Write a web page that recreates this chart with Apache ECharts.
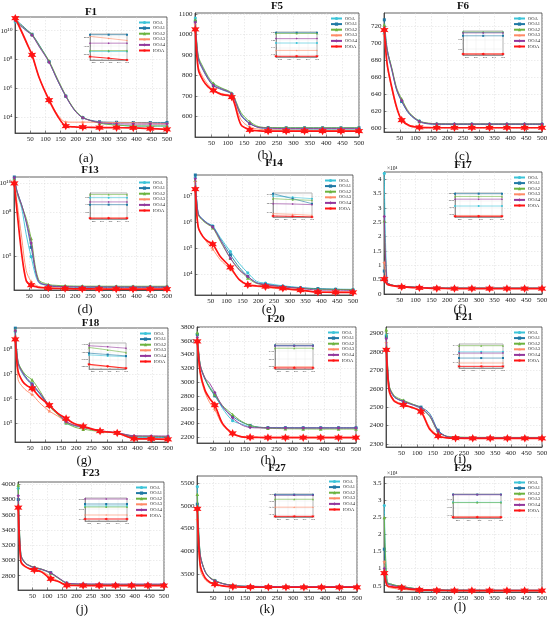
<!DOCTYPE html>
<html>
<head>
<meta charset="utf-8">
<script src="https://cdn.jsdelivr.net/npm/echarts@6/dist/echarts.min.js"></script>
<style>html,body{margin:0;padding:0;background:#fff}#chart{width:550px;height:621px}</style>
</head>
<body>
<div id="chart"></div>
<script>
// iterations the curves are read at; markers sit on the ones in MARK_AT
var X = [1, 10, 25, 40, 56, 80, 112, 140, 167, 195, 223, 278, 334, 389, 445, 500];
var MARK_AT = [1, 56, 112, 167, 223, 278, 334, 389, 445, 500];
var X_TICKS = [50, 100, 150, 200, 250, 300, 350, 400, 450, 500];
var INSET_X_TICKS = [400, 425, 450, 475, 500];
var NAMES = ['OOA', 'OOA1', 'OOA2', 'OOA3', 'OOA4', 'IOOA'];

// rows follow NAMES
var F1_VALUES = [
	[4.0e10, 2.8e10, 1.6e10, 9.0e9, 5.0e9, 8.0e8, 7.2e7, 4.0e6, 3.0e5, 3.4e4, 9.5e3, 4.0e3, 3.0e3, 2360, 2360, 2360],
	[7.4e10, 4.2e10, 2.2e10, 1.1e10, 5.6e9, 1.0e9, 7.0e7, 3.5e6, 2.8e5, 3.2e4, 9.0e3, 4.8e3, 4.4e3, 4270, 4270, 4270],
	[6.0e10, 3.6e10, 1.9e10, 1.0e10, 5.5e9, 9.0e8, 8.0e7, 4.5e6, 3.2e5, 3.6e4, 9.8e3, 3.8e3, 2.8e3, 2470, 2470, 2470],
	[7.0e10, 2.5e10, 5.0e9, 1.0e9, 1.8e8, 5.0e6, 1.8e5, 1.5e4, 4.6e3, 4.5e3, 4.5e3, 4.4e3, 4.2e3, 4080, 3850, 3620],
	[5.0e10, 3.2e10, 1.7e10, 9.0e9, 4.8e9, 7.5e8, 6.5e7, 3.6e6, 2.8e5, 3.2e4, 9.0e3, 4.2e3, 3.5e3, 3310, 3310, 3310],
	[7.4e10, 3.0e10, 6.3e9, 1.2e9, 2.1e8, 5.2e6, 1.5e5, 1.2e4, 2.4e3, 2.1e3, 2.0e3, 1.9e3, 1.85e3, 1780, 1600, 1400]
];
var F1_TICKS = [1e4, 1e6, 1e8, 1e10];

var F5_VALUES = [
	[1080, 890, 835, 790, 758, 738, 712, 612, 568, 545, 540, 538, 538, 538, 538, 538],
	[1065, 880, 825, 782, 750, 732, 708, 605, 565, 548, 546, 545, 545, 545, 545, 545],
	[1072, 895, 840, 795, 762, 740, 714, 620, 575, 550, 546, 545, 544.5, 544.5, 544.5, 544.5],
	[1050, 845, 790, 755, 730, 712, 698, 585, 548, 538, 535, 534, 533, 533, 533, 533],
	[1060, 885, 830, 786, 752, 735, 710, 608, 566, 546, 543, 541, 541, 541, 541, 541],
	[1025, 830, 775, 745, 727, 708, 695, 560, 535, 530, 529, 529, 529, 529, 529, 529]
];
var F5_TICKS = [600, 700, 800, 900, 1000, 1100];

var F6_VALUES = [
	[712, 690, 668, 645, 632, 618, 609, 606, 605.6, 605.5, 605.5, 605.5, 605.5, 605.5, 605.5, 605.5],
	[728, 694, 670, 646, 632, 617, 608, 605.5, 605, 604.9, 604.8, 604.8, 604.8, 604.8, 604.8, 604.8],
	[722, 693, 671, 648, 635, 619, 609, 606.5, 605.8, 605.7, 605.6, 605.6, 605.6, 605.6, 605.6, 605.6],
	[710, 674, 646, 624, 611, 604, 601.8, 601.3, 601.1, 601.05, 601.05, 601.05, 601.05, 601.05, 601.05, 601.05],
	[718, 692, 669, 646, 633, 618, 608.5, 606, 605.5, 605.4, 605.4, 605.4, 605.4, 605.4, 605.4, 605.4],
	[716, 676, 648, 625, 610, 603.5, 601.5, 601.1, 601, 601, 601, 601, 601, 601, 601, 601]
];
var F6_TICKS = [600, 620, 640, 660, 680, 700, 720];

var F13_VALUES = [
	[2.0e10, 2.0e9, 2.0e8, 3.0e6, 9.0e4, 1.5e3, 950, 860, 830, 810, 800, 795, 792, 790, 790, 790],
	[2.8e10, 3.0e9, 3.5e8, 2.0e7, 4.0e5, 2.0e3, 900, 780, 740, 720, 710, 705, 702, 700, 700, 700],
	[2.2e10, 2.5e9, 3.0e8, 4.0e7, 1.6e6, 2.5e3, 1.1e3, 950, 880, 850, 840, 835, 832, 830, 830, 830],
	[1.5e10, 5.0e8, 2.0e6, 1.0e4, 1.8e3, 800, 620, 580, 560, 550, 545, 540, 535, 530, 530, 530],
	[2.5e10, 2.8e9, 3.2e8, 2.5e7, 8.0e5, 1.8e3, 950, 820, 780, 760, 750, 742, 738, 735, 735, 735],
	[1.0e10, 1.2e8, 1.5e5, 2.0e3, 1.0e3, 700, 620, 590, 570, 555, 545, 535, 530, 525, 525, 525]
];
var F13_TICKS = [1e5, 1e8, 1e10];

var F14_VALUES = [
	[5.0e7, 2.2e6, 1.26e6, 9.0e5, 7.0e5, 2.5e5, 7.2e4, 2.5e4, 1.1e4, 5.2e3, 4.4e3, 3.5e3, 3.0e3, 2650, 2606, 2561],
	[6.3e7, 2.0e6, 1.2e6, 8.5e5, 6.6e5, 2.2e5, 5.4e4, 1.8e4, 8.0e3, 4.6e3, 4.0e3, 3.3e3, 2.9e3, 2728, 2561, 2394],
	[4.0e7, 1.9e6, 1.1e6, 8.0e5, 6.0e5, 1.8e5, 4.0e4, 1.5e4, 7.0e3, 4.3e3, 3.8e3, 3.2e3, 2.8e3, 2561, 2528, 2506],
	[3.5e7, 6.0e5, 2.8e5, 1.5e5, 9.0e4, 3.5e4, 1.5e4, 6.0e3, 3.8e3, 3.3e3, 3.0e3, 2.6e3, 2.3e3, 2061, 2039, 2006],
	[4.5e7, 2.1e6, 1.2e6, 8.5e5, 6.3e5, 2.0e5, 4.0e4, 1.4e4, 8.0e3, 4.5e3, 3.9e3, 3.2e3, 2.8e3, 2394, 2383, 2361],
	[1.8e7, 6.6e5, 2.7e5, 1.8e5, 1.4e5, 4.7e4, 1.8e4, 6.0e3, 3.8e3, 3.5e3, 3.25e3, 2.8e3, 2.4e3, 1983, 1972, 1950]
];
var F14_TICKS = [1e4, 1e5, 1e6, 1e7];

var F17_VALUES = [
	[42000, 4200, 3100, 2800, 2650, 2450, 2300, 2150, 2080, 2030, 2000, 1980, 1970, 1960, 1960, 1960],
	[8000, 4000, 3100, 2800, 2650, 2450, 2300, 2180, 2100, 2070, 2060, 2055, 2052, 2050, 2050, 2050],
	[25500, 4100, 3150, 2850, 2680, 2480, 2320, 2170, 2090, 2055, 2040, 2035, 2032, 2030, 2030, 2030],
	[11000, 3600, 2900, 2650, 2500, 2300, 2150, 2030, 1950, 1910, 1900, 1895, 1892, 1890, 1890, 1890],
	[27000, 4100, 3100, 2820, 2660, 2460, 2310, 2160, 2080, 2040, 2025, 2015, 2012, 2010, 2010, 2010],
	[5200, 3400, 2900, 2650, 2500, 2300, 2150, 2030, 1950, 1910, 1900, 1892, 1888, 1885, 1885, 1885]
];
var F17_TICKS = [0, 5000, 10000, 15000, 20000, 25000, 30000, 35000, 40000];

var F18_VALUES = [
	[5.0e8, 2.5e7, 1.0e7, 5.6e6, 3.5e6, 1.6e6, 5.0e5, 2.5e5, 1.05e5, 8.0e4, 7.0e4, 5.0e4, 4.1e4, 28800, 28400, 28100],
	[7.0e8, 3.0e7, 1.2e7, 6.5e6, 4.0e6, 1.7e6, 5.2e5, 2.6e5, 1.2e5, 8.5e4, 7.2e4, 5.0e4, 4.2e4, 29500, 28950, 28400],
	[6.0e8, 3.2e7, 1.3e7, 8.0e6, 5.8e6, 2.2e6, 5.0e5, 2.3e5, 1.1e5, 7.2e4, 6.0e4, 4.8e4, 4.2e4, 31800, 30800, 29750],
	[3.0e8, 6.0e6, 3.0e6, 2.0e6, 1.5e6, 7.0e5, 3.2e5, 2.0e5, 1.2e5, 8.5e4, 7.2e4, 5.0e4, 4.0e4, 24700, 24050, 23500],
	[5.5e8, 2.8e7, 1.1e7, 6.0e6, 3.8e6, 1.8e6, 5.5e5, 2.7e5, 1.2e5, 8.5e4, 7.3e4, 5.2e4, 4.3e4, 32500, 32050, 31500],
	[2.5e8, 1.3e7, 5.0e6, 3.3e6, 2.6e6, 1.2e6, 5.5e5, 2.6e5, 1.6e5, 9.8e4, 7.8e4, 5.0e4, 4.2e4, 25000, 24200, 23400]
];
var F18_TICKS = [1e5, 1e6, 1e7, 1e8];

var F20_VALUES = [
	[3700, 3250, 3050, 2930, 2830, 2620, 2440, 2390, 2350, 2340, 2336, 2335, 2334, 2334, 2334, 2334],
	[3690, 3240, 3040, 2910, 2800, 2640, 2500, 2420, 2370, 2345, 2338, 2336, 2335, 2335, 2335, 2335],
	[3720, 3260, 3060, 2920, 2820, 2660, 2530, 2430, 2370, 2340, 2330, 2322, 2320, 2318, 2318, 2318],
	[3560, 3100, 2850, 2700, 2600, 2380, 2240, 2210, 2203, 2201, 2200, 2200, 2200, 2200, 2200, 2200],
	[3650, 3250, 3060, 2980, 2850, 2650, 2480, 2380, 2340, 2335, 2334, 2333, 2333, 2333, 2333, 2333],
	[3590, 3148, 2883, 2760, 2665, 2400, 2255, 2205, 2197, 2195, 2194, 2193, 2192, 2192, 2192, 2192]
];
var F20_TICKS = [2200, 2400, 2600, 2800, 3000, 3200, 3400, 3600, 3800];

var F21_VALUES = [
	[2890, 2610, 2556, 2540, 2530, 2515, 2492, 2450, 2370, 2342, 2337, 2335, 2334.6, 2334.5, 2334.5, 2334.5],
	[2880, 2615, 2560, 2542, 2532, 2518, 2500, 2465, 2375, 2340, 2335, 2333.5, 2333.2, 2333, 2333, 2333],
	[2920, 2620, 2565, 2548, 2537, 2520, 2495, 2450, 2365, 2342, 2338, 2336.5, 2336.2, 2336, 2336, 2336],
	[2850, 2590, 2540, 2525, 2515, 2500, 2480, 2390, 2345, 2335, 2333, 2332.2, 2332, 2331.8, 2331.8, 2331.8],
	[2870, 2612, 2558, 2541, 2531, 2516, 2494, 2455, 2368, 2341, 2336, 2334.6, 2334.3, 2334.2, 2334.2, 2334.2],
	[2810, 2590, 2535, 2520, 2512, 2500, 2475, 2380, 2343, 2333, 2331.5, 2331.2, 2331.1, 2331, 2331, 2331]
];
var F21_TICKS = [2300, 2400, 2500, 2600, 2700, 2800, 2900];

var F23_VALUES = [
	[3947, 3072, 2963, 2930, 2900, 2880, 2831, 2760, 2700, 2688, 2685, 2684, 2683, 2683, 2683, 2683],
	[3800, 3060, 2960, 2928, 2905, 2885, 2840, 2765, 2702, 2690, 2687, 2686, 2685, 2685, 2685, 2685],
	[3990, 3080, 2970, 2935, 2910, 2888, 2835, 2762, 2698, 2686, 2684, 2683, 2682, 2682, 2682, 2682],
	[3700, 3000, 2925, 2895, 2880, 2860, 2790, 2725, 2680, 2676, 2675, 2674, 2674, 2674, 2674, 2674],
	[3850, 3070, 2965, 2932, 2905, 2885, 2838, 2770, 2705, 2694, 2692, 2691, 2690, 2690, 2690, 2690],
	[3693, 2980, 2918, 2890, 2875, 2850, 2757, 2720, 2672, 2671, 2670, 2670, 2670, 2670, 2670, 2670]
];
var F23_TICKS = [2800, 3000, 3200, 3400, 3600, 3800, 4000];

var F27_VALUES = [
	[5425, 3924, 3557, 3420, 3353, 3290, 3245, 3232, 3228, 3226, 3225.5, 3225, 3224.9, 3224.8, 3224.8, 3224.8],
	[5038, 3930, 3560, 3420, 3350, 3290, 3245, 3232, 3228, 3226, 3225.5, 3225.2, 3225.1, 3225, 3225, 3225],
	[5258, 3940, 3570, 3430, 3360, 3295, 3247, 3230, 3226, 3223, 3222.5, 3222, 3221.7, 3221.5, 3221.5, 3221.5],
	[4700, 3600, 3380, 3300, 3260, 3235, 3222, 3218, 3216.5, 3216, 3215.8, 3215.6, 3215.5, 3215.5, 3215.5, 3215.5],
	[4950, 3920, 3555, 3415, 3350, 3288, 3244, 3231, 3227, 3225.5, 3225, 3224.8, 3224.7, 3224.6, 3224.6, 3224.6],
	[4935, 3705, 3420, 3320, 3280, 3240, 3220, 3212, 3210, 3209, 3208.8, 3208.6, 3208.5, 3208.5, 3208.5, 3208.5]
];
var F27_TICKS = [3500, 4000, 4500, 5000, 5500];

var F29_VALUES = [
	[28500, 5800, 5200, 4900, 4700, 4300, 3950, 3800, 3720, 3680, 3660, 3640, 3630, 3620, 3620, 3620],
	[15700, 6000, 5400, 5000, 4800, 4400, 4000, 3820, 3740, 3700, 3680, 3665, 3655, 3650, 3650, 3650],
	[25000, 6100, 5400, 5050, 4850, 4400, 4000, 3810, 3730, 3690, 3665, 3640, 3628, 3619, 3619, 3619],
	[12000, 4800, 4300, 4100, 3950, 3750, 3650, 3600, 3580, 3572, 3568, 3566, 3565, 3565, 3565, 3565],
	[10000, 5600, 5100, 4800, 4650, 4250, 3950, 3800, 3730, 3690, 3670, 3658, 3652, 3649, 3649, 3649],
	[8700, 5000, 4650, 4500, 4400, 4000, 3800, 3700, 3620, 3590, 3575, 3568, 3565, 3563, 3563, 3563]
];
var F29_TICKS = [5000, 10000, 15000, 20000, 25000, 30000, 35000];

// axis extents, tick values and the zoomed range of each inset
var PANELS = [
	{name: 'F1',  tag: '(a)', values: F1_VALUES,  ticks: F1_TICKS,  log: true,  range: [794, 8.9e10],   inset: [1400, 4350]},
	{name: 'F5',  tag: '(b)', values: F5_VALUES,  ticks: F5_TICKS,  log: false, range: [500, 1105],     inset: [528.5, 545.5]},
	{name: 'F6',  tag: '(c)', values: F6_VALUES,  ticks: F6_TICKS,  log: false, range: [596, 736],      inset: [600.8, 605.8]},
	{name: 'F13', tag: '(d)', values: F13_VALUES, ticks: F13_TICKS, log: true,  range: [457, 2.8e10],   inset: [515, 850]},
	{name: 'F14', tag: '(e)', values: F14_VALUES, ticks: F14_TICKS, log: true,  range: [1550, 6.3e7],   inset: [1950, 2750]},
	{name: 'F17', tag: '(f)', values: F17_VALUES, ticks: F17_TICKS, log: false, range: [0, 42500],      inset: [1880, 2055], e4: true},
	{name: 'F18', tag: '(g)', values: F18_VALUES, ticks: F18_TICKS, log: true,  range: [1.82e4, 7.1e8], inset: [23100, 33600]},
	{name: 'F20', tag: '(h)', values: F20_VALUES, ticks: F20_TICKS, log: false, range: [2115, 3800],    inset: [2185, 2345]},
	{name: 'F21', tag: '(i)', values: F21_VALUES, ticks: F21_TICKS, log: false, range: [2284, 2934],    inset: [2330.6, 2336.4]},
	{name: 'F23', tag: '(j)', values: F23_VALUES, ticks: F23_TICKS, log: false, range: [2612, 4030],    inset: [2668, 2691]},
	{name: 'F27', tag: '(k)', values: F27_VALUES, ticks: F27_TICKS, log: false, range: [3104, 5660],    inset: [3208, 3225.5]},
	{name: 'F29', tag: '(l)', values: F29_VALUES, ticks: F29_TICKS, log: false, range: [3150, 36850],   inset: [3560, 3652], e4: true}
];

// pixel layout: plot box, inset box [left, top, w, h], title centre, tag centre
var LAYOUT = {
	F1:  {grid: [15, 17, 152, 116],  inset: [90, 34, 37, 26],   title: [91, 12.5],  tag: [86, 159]},
	F5:  {grid: [195, 13, 164, 124], inset: [276, 32, 41, 25],  title: [277, 6.5],  tag: [265, 156]},
	F6:  {grid: [384, 13, 158, 119], inset: [463, 31, 40, 24],  title: [463, 6.5],  tag: [462, 157]},
	F13: {grid: [14, 177, 153, 113], inset: [90, 193, 37, 26],  title: [90, 170],   tag: [85, 310]},
	F14: {grid: [195, 175, 158, 120],inset: [273, 193, 39, 24], title: [274, 163.5],tag: [269, 310]},
	F17: {grid: [384, 172, 158, 122],inset: [455, 193, 47, 24], title: [463, 165.5],tag: [460, 310]},
	F18: {grid: [15, 328, 153, 114], inset: [89, 343, 37, 26],  title: [90.5, 323], tag: [84, 461]},
	F20: {grid: [197, 327, 159, 116],inset: [275, 344, 38, 25], title: [276, 319.5],tag: [268, 461]},
	F21: {grid: [386, 327, 156, 120],inset: [459, 344, 44, 24], title: [464, 317.5],tag: [460, 460]},
	F23: {grid: [18, 482, 146, 108], inset: [85, 498, 42, 23],  title: [91, 473.5], tag: [82, 610]},
	F27: {grid: [197, 476, 160, 116],inset: [275, 494, 38, 23], title: [277, 468],  tag: [267, 610]},
	F29: {grid: [384, 477, 158, 115],inset: [453, 494, 48, 24], title: [463, 468],  tag: [460, 608]}
};

var SERIF = '"Liberation Serif", "DejaVu Serif", serif';
var STAR5 = 'path://M50,0 L61,35 L98,35 L68,57 L79,91 L50,70 L21,91 L32,57 L2,35 L39,35 Z';
var STAR6 = 'path://M50,0 L62,28 L93,25 L75,50 L93,75 L62,72 L50,100 L38,72 L7,75 L25,50 L7,25 L38,28 Z';
var COLORS = ['#3cc4d8', '#1f78a4', '#6cb33f', '#ff8a66', '#94379c', '#ff1414'];
var SYMBOLS = ['circle', 'rect', 'triangle', STAR5, 'diamond', STAR6];
var SIZES = [3.2, 3, 3.6, 4.2, 3.4, 8.5];
var WIDTHS = [0.9, 0.9, 0.9, 0.9, 0.9, 1.7];
var SUP = ['\u2070', '\u00b9', '\u00b2', '\u00b3', '\u2074', '\u2075', '\u2076', '\u2077', '\u2078', '\u2079'];
var GRID_LINE = {color: '#d8d8d8', width: 0.5, type: [1.5, 1.5]};

function powLabel(v) {
	var e = String(Math.round(Math.log10(v)));
	var s = '10';
	for (var i = 0; i < e.length; i++) { s += SUP[+e[i]]; }
	return s;
}
function plainLabel(v) { return String(v); }
function e4Label(v) { return String(v / 1e4); }

var grids = [], xAxes = [], yAxes = [], series = [], legends = [], texts = [];

PANELS.forEach(function (p) {
	var L = LAYOUT[p.name];
	var gi = grids.length;
	grids.push({left: L.grid[0], top: L.grid[1], width: L.grid[2], height: L.grid[3],
		show: true, borderColor: '#3a3a3a', borderWidth: 0.8, outerBoundsMode: 'none'});
	xAxes.push({
		type: 'value', gridIndex: gi, min: 0, max: 500,
		axisLine: {show: true, lineStyle: {color: '#333', width: 0.8}},
		axisTick: {show: true, inside: true, length: 2.5, customValues: X_TICKS, lineStyle: {color: '#333', width: 0.6}},
		axisLabel: {customValues: X_TICKS, fontSize: 7, fontFamily: SERIF, color: '#222', margin: 2.5, formatter: plainLabel},
		splitLine: {show: true, lineStyle: GRID_LINE}
	});
	yAxes.push({
		type: p.log ? 'log' : 'value', logBase: 10, gridIndex: gi, min: p.range[0], max: p.range[1],
		axisLine: {show: true, lineStyle: {color: '#333', width: 0.8}},
		axisTick: {show: true, inside: true, length: 2.5, customValues: p.ticks, lineStyle: {color: '#333', width: 0.6}},
		axisLabel: {customValues: p.ticks, fontSize: 7, fontFamily: SERIF, color: '#222', margin: 2.5,
			formatter: p.log ? powLabel : (p.e4 ? e4Label : plainLabel)},
		splitLine: {show: true, lineStyle: GRID_LINE}
	});

	// zoom box near the end of the run
	var ii = grids.length;
	grids.push({left: L.inset[0], top: L.inset[1], width: L.inset[2], height: L.inset[3],
		show: true, backgroundColor: '#fff', borderColor: '#777', borderWidth: 0.6, outerBoundsMode: 'none', z: 5});
	xAxes.push({
		type: 'value', gridIndex: ii, min: 389, max: 500, z: 5,
		axisLine: {show: true, lineStyle: {color: '#555', width: 0.5}},
		axisTick: {show: true, inside: true, length: 1, customValues: INSET_X_TICKS, lineStyle: {color: '#555', width: 0.4}},
		axisLabel: {customValues: INSET_X_TICKS, fontSize: 2.6, fontFamily: SERIF, color: '#444', margin: 1, formatter: plainLabel},
		splitLine: {show: true, lineStyle: {color: '#e2e2e2', width: 0.4}}
	});
	yAxes.push({
		type: 'value', gridIndex: ii, min: p.inset[0], max: p.inset[1], splitNumber: 3, z: 5,
		axisLine: {show: true, lineStyle: {color: '#555', width: 0.5}},
		axisTick: {show: true, inside: true, length: 1, lineStyle: {color: '#555', width: 0.4}},
		axisLabel: {fontSize: 2.6, fontFamily: SERIF, color: '#444', margin: 1, showMinLabel: false, showMaxLabel: false,
			formatter: plainLabel},
		splitLine: {show: true, lineStyle: {color: '#e2e2e2', width: 0.4}}
	});

	p.values.forEach(function (row, k) {
		var pts = X.map(function (x, i) { return [x, row[i]]; });
		series.push({
			name: NAMES[k], type: 'line', xAxisIndex: gi, yAxisIndex: gi,
			data: pts, smooth: 0.3, color: COLORS[k], symbol: SYMBOLS[k],
			symbolSize: (function (s) { return function (v) { return MARK_AT.indexOf(v[0]) >= 0 ? s : 0; }; })(SIZES[k]),
			lineStyle: {width: WIDTHS[k], color: COLORS[k]},
			itemStyle: {color: COLORS[k]}, z: 2 + k, silent: true
		});
		series.push({
			name: NAMES[k], type: 'line', xAxisIndex: ii, yAxisIndex: ii,
			data: pts.slice(-3), color: COLORS[k], symbol: SYMBOLS[k],
			symbolSize: k === 5 ? 3.2 : 2, lineStyle: {width: k === 5 ? 0.9 : 0.6, color: COLORS[k]},
			itemStyle: {color: COLORS[k]}, z: 10 + k, silent: true
		});
	});

	legends.push({
		data: NAMES, orient: 'vertical', right: 550 - (L.grid[0] + L.grid[2]) + 1, top: L.grid[1] + 2,
		itemWidth: 11, itemHeight: 4, itemGap: 0.6, padding: 1, backgroundColor: '#fff',
		textStyle: {fontSize: 4.5, fontFamily: SERIF, color: '#222', padding: [0, 0, 0, -2]},
		selectedMode: false, z: 20
	});

	texts.push({type: 'text', x: L.title[0], y: L.title[1], z: 30,
		style: {text: p.name, font: 'bold 11px ' + SERIF, fill: '#111', textAlign: 'center', textVerticalAlign: 'middle'}});
	texts.push({type: 'text', x: L.tag[0], y: L.tag[1], z: 30,
		style: {text: p.tag, font: '13px ' + SERIF, fill: '#111', textAlign: 'center', textVerticalAlign: 'middle'}});
	if (p.e4) {
		texts.push({type: 'text', x: L.grid[0] + 3, y: L.grid[1] - 3, z: 30,
			style: {text: '\u00d710\u2074', font: '5.5px ' + SERIF, fill: '#222', textAlign: 'left', textVerticalAlign: 'middle'}});
	}
});

var chart = echarts.init(document.getElementById('chart'), null, {renderer: 'canvas'});
chart.setOption({
	animation: false,
	backgroundColor: '#fff',
	grid: grids,
	xAxis: xAxes,
	yAxis: yAxes,
	legend: legends,
	series: series,
	graphic: texts
});
</script>
</body>
</html>
